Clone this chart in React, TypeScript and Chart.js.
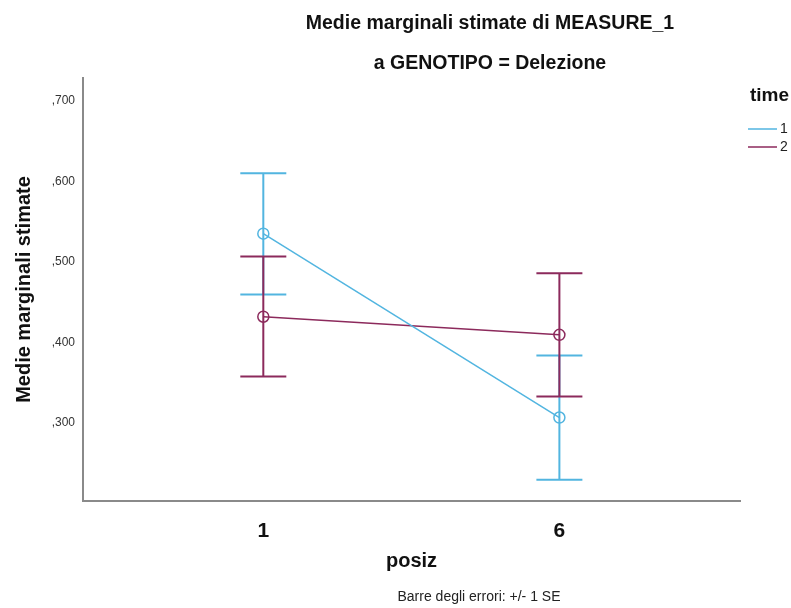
import React, { useEffect, useRef } from "react";
import { Chart, registerables } from "chart.js";

Chart.register(...registerables);

// ---------- data ----------
const categories = ["1", "6"];
const seriesNames = ["1", "2"];
const time1Means = [0.535, 0.307];
const time1Lower = [0.4595, 0.2297];
const time1Upper = [0.61, 0.3838];
const time2Means = [0.432, 0.4095];
const time2Lower = [0.358, 0.333];
const time2Upper = [0.5066, 0.486];
const yTickValues = [0.3, 0.4, 0.5, 0.6, 0.7];
const yTickLabels = [",300", ",400", ",500", ",600", ",700"];
const titleLines = ["Medie marginali stimate di MEASURE_1", "a GENOTIPO = Delezione"];
const yAxisTitle = "Medie marginali stimate";
const xAxisTitle = "posiz";
const legendTitle = "time";
const footnote = "Barre degli errori: +/- 1 SE";

const seriesColors = ["#52b5e0", "#8c2a5c"];
const FONT = 'Arial, "Liberation Sans", Helvetica, sans-serif';

const errorBarPlugin = {
  id: "errorBars",
  beforeDatasetsDraw(chart: any) {
    const { ctx, scales } = chart;
    const x = scales.x;
    const y = scales.y;
    chart.data.datasets.forEach((ds: any) => {
      ctx.save();
      ctx.strokeStyle = ds.borderColor;
      ctx.lineWidth = 2;
      ds.errLower.forEach((lo: number, i: number) => {
        const px = x.getPixelForValue(ds.data[i].x);
        const pl = y.getPixelForValue(lo);
        const pu = y.getPixelForValue(ds.errUpper[i]);
        const cap = 23;
        ctx.beginPath();
        ctx.moveTo(px, pl);
        ctx.lineTo(px, pu);
        ctx.moveTo(px - cap, pl);
        ctx.lineTo(px + cap, pl);
        ctx.moveTo(px - cap, pu);
        ctx.lineTo(px + cap, pu);
        ctx.stroke();
      });
      ctx.restore();
    });
  },
};

const textPlugin = {
  id: "texts",
  afterDraw(chart: any) {
    const { ctx } = chart;
    ctx.save();
    // titles
    ctx.fillStyle = "#111";
    ctx.font = `bold 19.5px ${FONT}`;
    ctx.textAlign = "center";
    ctx.textBaseline = "alphabetic";
    ctx.fillText(titleLines[0], 490, 29);
    ctx.fillText(titleLines[1], 490, 69);
    // legend
    ctx.textAlign = "left";
    ctx.font = `bold 19px ${FONT}`;
    ctx.textBaseline = "middle";
    ctx.fillText(legendTitle, 750, 96);
    ctx.font = `14px ${FONT}`;
    seriesNames.forEach((name, i) => {
      const ly = 129 + i * 18;
      ctx.strokeStyle = seriesColors[i];
      ctx.lineWidth = 1.5;
      ctx.beginPath();
      ctx.moveTo(748, ly);
      ctx.lineTo(777, ly);
      ctx.stroke();
      ctx.fillStyle = "#222";
      ctx.fillText(name, 780, ly);
    });
    // footnote
    ctx.textAlign = "center";
    ctx.font = `14px ${FONT}`;
    ctx.fillStyle = "#222";
    ctx.fillText(footnote, 479, 597);
    ctx.restore();
  },
};

export default function App() {
  const canvasRef = useRef<HTMLCanvasElement | null>(null);

  useEffect(() => {
    const canvas = canvasRef.current;
    if (!canvas) return;
    const means = [time1Means, time2Means];
    const lowers = [time1Lower, time2Lower];
    const uppers = [time1Upper, time2Upper];
    const chart = new Chart(canvas, {
      type: "line",
      data: {
        datasets: seriesNames.map((name, s) => ({
          label: name,
          data: categories.map((_, i) => ({ x: i, y: means[s][i] })),
          errLower: lowers[s],
          errUpper: uppers[s],
          borderColor: seriesColors[s],
          backgroundColor: "rgba(0,0,0,0)",
          pointBackgroundColor: "rgba(0,0,0,0)",
          pointBorderColor: seriesColors[s],
          pointBorderWidth: 1.5,
          pointRadius: 5.5,
          borderWidth: 1.5,
          tension: 0,
        })) as any,
      },
      options: {
        animation: false,
        responsive: false,
        devicePixelRatio: 1,
        layout: { padding: { top: 78, right: 51, left: 0, bottom: 0 } },
        plugins: {
          legend: { display: false },
          title: { display: false },
          tooltip: { enabled: false },
        },
        scales: {
          x: {
            type: "linear",
            min: -0.609,
            max: 1.61,
            afterBuildTicks: (scale: any) => {
              scale.ticks = categories.map((_, i) => ({ value: i }));
            },
            afterFit: (scale: any) => {
              scale.height = 107;
            },
            ticks: {
              callback: (v: any) => categories[Number(v)] ?? "",
              font: { family: FONT, size: 21, weight: "bold" },
              color: "#111",
              padding: 18,
              maxRotation: 0,
            },
            grid: { display: false, drawTicks: false },
            border: { display: true, color: "#8a8a8a", width: 2 },
            title: {
              display: true,
              text: xAxisTitle,
              font: { family: FONT, size: 20, weight: "bold" },
              color: "#111",
              padding: { top: 0, bottom: 35 },
            },
          },
          y: {
            type: "linear",
            min: 0.2035,
            max: 0.728,
            afterBuildTicks: (scale: any) => {
              scale.ticks = yTickValues.map((v) => ({ value: v }));
            },
            afterFit: (scale: any) => {
              scale.width = 83;
            },
            ticks: {
              callback: (v: any) => {
                const idx = yTickValues.findIndex((t) => Math.abs(t - Number(v)) < 1e-6);
                return idx >= 0 ? yTickLabels[idx] : "";
              },
              font: { family: FONT, size: 12 },
              color: "#333",
              padding: 8,
            },
            grid: { display: false, drawTicks: false },
            border: { display: true, color: "#8a8a8a", width: 2 },
            title: {
              display: true,
              text: yAxisTitle,
              font: { family: FONT, size: 20, weight: "bold" },
              color: "#111",
              padding: { top: 12, bottom: 0 },
            },
          },
        },
      } as any,
      plugins: [errorBarPlugin, textPlugin],
    });
    return () => chart.destroy();
  }, []);

  return (
    <div style={{ position: "absolute", left: 0, top: 0, width: 791, height: 608, background: "#fff" }}>
      <canvas ref={canvasRef} width={791} height={608} />
    </div>
  );
}
